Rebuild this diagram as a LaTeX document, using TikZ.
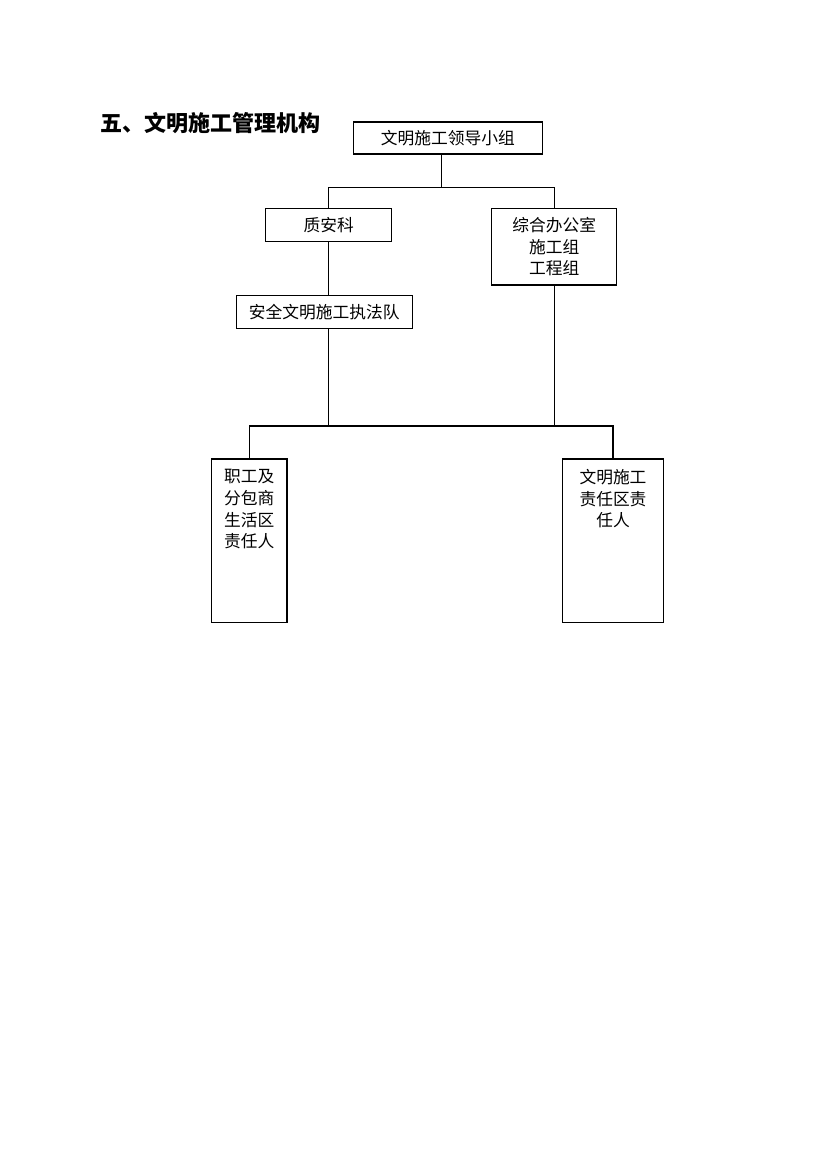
\documentclass[tikz,border=0pt]{standalone}
\usepackage{fontspec}
\setmainfont{Noto Sans CJK SC}
\usepackage{tikz}
\usetikzlibrary{calc,positioning}

\begin{document}
\begin{tikzpicture}[x=0.7169pt,y=-0.7169pt,
	box/.style={draw,line width=0.8pt,inner sep=0pt,align=center,
		font=\fontsize{12pt}{15.5pt}\selectfont},
	txt/.style={inner sep=0pt,align=center,anchor=north,
		font=\fontsize{12pt}{15.6pt}\selectfont},
	link/.style={line width=0.8pt}]
\useasboundingbox (0,0) rectangle (830,1174);
\node[anchor=west,inner sep=0pt,font=\fontsize{15.8pt}{18pt}\selectfont\bfseries] (title) at (100,123) {五、文明施工管理机构};
\node[box,minimum width=135.5pt,minimum height=23pt] (lead) at (447.8,138) {文明施工领导小组};
\node[box,minimum width=90.3pt,minimum height=23.7pt] (zak) at (328.7,225.2) {质安科};
\node[box,minimum width=89.8pt,minimum height=54.7pt] (office) at (554.3,246.8) {综合办公室\\施工组\\工程组};
\node[box,minimum width=126.2pt,minimum height=23.7pt] (team) at (324.3,312.2) {安全文明施工执法队};
\node[box,minimum width=54pt,minimum height=117.1pt] (lbox) at (249.3,540.7) {};
\node[box,minimum width=72.1pt,minimum height=117.1pt] (rbox) at (613,540.7) {};
\node[txt] (ltext) at (249.3,469) {职工及\\分包商\\生活区\\责任人};
\node[txt] (rtext) at (613,469) {文明施工\\责任区责\\任人};
\coordinate (j0) at (441.7,187.3);
\coordinate (j1) at (328.7,426);
\draw[link] (lead.south -| j0) -- (j0);
\draw[link] (zak.north) |- (office.north |- j0) -- (office.north);
\draw[link] (zak.south) -- (zak.south |- team.north);
\draw[link] (team.south -| j1) -- (j1);
\draw[link] (office.south) -- (office.south |- j1);
\draw[link] (lbox.north) |- (rbox.north |- j1) -- (rbox.north);
\end{tikzpicture}
\end{document}
